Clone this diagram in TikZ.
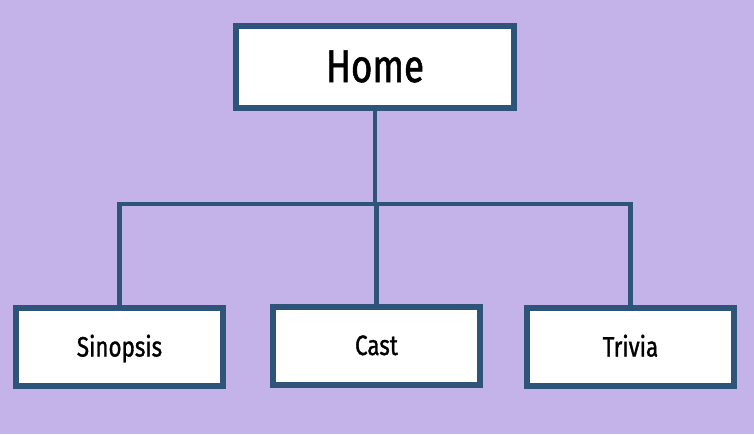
\documentclass[tikz,border=0pt]{standalone}
\usepackage{fontspec}
\newfontfamily\condfont[FakeStretch=0.8, FakeBold=1.2]{Fira Sans}
\definecolor{lavender1}{RGB}{196, 179, 232}
\definecolor{navy1}{RGB}{46, 85, 121}
\usetikzlibrary{positioning, calc}

\begin{document}
\begin{tikzpicture}[x=1pt, y=-1pt,
    pagebox/.style={draw=navy1, fill=white, line width=6pt, minimum width=207pt, minimum height=78pt, text height=19pt, text depth=0pt, font=\condfont\fontsize{28}{32}\selectfont},
    link/.style={draw=navy1, line width=4.5pt}]
  % Background
  \fill[lavender1] (0,0) rectangle (754,434);
  \useasboundingbox (0,0) rectangle (754,434);

  % Top page
  \node[pagebox, minimum width=278pt, minimum height=82pt, text height=31pt, font=\condfont\fontsize{46}{52}\selectfont] (home) at (375, 66.5) {Home};

  % Sub pages
  \node[pagebox] (sinopsis) at (119.5, 347) {Sinopsis};
  \node[pagebox] (cast) at (376.5, 345.5) {Cast};
  \node[pagebox] (trivia) at (630.5, 347) {Trivia};

  % Connectors
  \coordinate (bus) at (375, 204);
  \draw[link] (home.south) -- (home.south |- bus);
  \draw[link] (sinopsis.north) -- (sinopsis.north |- bus) -- (trivia.north |- bus) -- (trivia.north);
  \draw[link] (cast.north) -- (cast.north |- bus);
\end{tikzpicture}
\end{document}
